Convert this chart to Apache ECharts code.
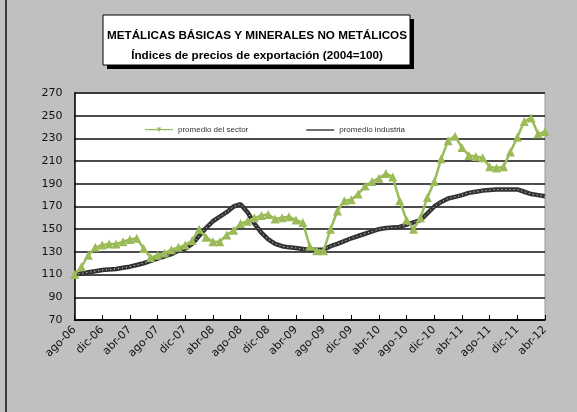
<!DOCTYPE html>
<html><head><meta charset="utf-8">
<script src="https://cdn.jsdelivr.net/npm/echarts@6/dist/echarts.min.js"></script>
<style>html,body{margin:0;padding:0;background:#c0c0c0;}#c{width:577px;height:412px;}</style>
</head><body><div id="c"></div>
<script>
var months = ['ene','feb','mar','abr','may','jun','jul','ago','sep','oct','nov','dic'];
var categories = [];
for (var y = 2006, m = 7; categories.length < 69; ) {
  categories.push(months[m] + '-' + String(y).slice(2));
  m++; if (m > 11) { m = 0; y++; }
}
var titleLines = ['METÁLICAS BÁSICAS Y MINERALES NO METÁLICOS', 'Índices de precios de exportación (2004=100)'];
var seriesNames = ['promedio del sector', 'promedio industria'];
var sector = [110,117,127,134,136,137,137,139,141,142,133,125,127,129,132,134,136,140,150,143,
  139,139,145,149,155,157,160,162,163,159,160,161,158,156,135,131,131,150,166,175,
  176,181,188,192,195,199,196,175,158,150,160,178,192,212,228,232,222,215,214,213,
  205,204,205,218,231,245,248,234,236];
var industria = [110,111,112,113,114,114.5,115,116,117,118.5,120,122,124,126,128,131,133,137,144,151,
  157,161,165,170,172,165,155,147,141,137,135,134,133.5,132.5,132,132,132,135,137,139.5,
  142,144,146,148,150,151,151.5,152,154,156,158,164,170,174,177,178.5,180,182,183,184,
  184.5,185,185,185,185,183,181,180,179];
var yTicks = {min: 70, max: 270, interval: 20};

var chart = echarts.init(document.getElementById('c'));
chart.setOption({
  backgroundColor: '#c0c0c0',
  animation: false,
  graphic: [
    {type: 'line', shape: {x1: 6, y1: 0, x2: 6, y2: 412}, style: {stroke: '#111', lineWidth: 1.5}},
    {type: 'rect', shape: {x: 107, y: 19, width: 307, height: 50}, style: {fill: '#000'}},
    {type: 'rect', shape: {x: 103, y: 15, width: 307, height: 50}, style: {fill: '#fff', stroke: '#000', lineWidth: 1}}
  ],
  title: {
    text: titleLines.join('\n'),
    left: 252, top: 21, textAlign: 'center',
    textStyle: {fontFamily: 'Liberation Sans, sans-serif', fontWeight: 'bold', fontSize: 11.7, lineHeight: 20, color: '#000'}
  },
  legend: {
    data: [
      {name: seriesNames[0], icon: 'path://M0,4 L40,4 L40,6 L0,6 Z M17,2 L23,2 L20,9 Z'},
      {name: seriesNames[1], icon: 'path://M0,4 L40,4 L40,6 L0,6 Z'}
    ],
    left: 140, top: 121, itemWidth: 28, itemHeight: 6, itemGap: 58,
    textStyle: {fontSize: 8, color: '#333', fontFamily: 'Liberation Sans, sans-serif'}
  },
  grid: {left: 74.5, right: 32, top: 93, bottom: 92, show: true, backgroundColor: '#fff', borderColor: '#999', borderWidth: 1},
  xAxis: {
    type: 'category', data: categories, boundaryGap: false,
    axisLine: {lineStyle: {color: '#000', width: 1.5}},
    axisTick: {inside: true, interval: 3, length: 5, lineStyle: {color: '#000'}},
    axisLabel: {interval: 3, rotate: 45, fontSize: 11, color: '#111', margin: 8, fontFamily: 'DejaVu Sans, sans-serif'},
    splitLine: {show: false}
  },
  yAxis: {
    type: 'value', min: yTicks.min, max: yTicks.max, interval: yTicks.interval,
    axisLine: {show: true, lineStyle: {color: '#000', width: 1.5}},
    axisTick: {show: false},
    axisLabel: {fontSize: 11, color: '#111', margin: 12, fontFamily: 'DejaVu Sans, sans-serif'},
    splitLine: {lineStyle: {color: '#111', width: 1.5}}
  },
  series: [
    {name: seriesNames[1], type: 'line', data: industria, symbol: 'none',
      lineStyle: {color: '#333', width: 4.5}, itemStyle: {color: '#333'}, z: 2},
    {name: 'overlay', type: 'line', data: industria, symbol: 'none', silent: true,
      lineStyle: {color: '#e8e8e8', width: 1, type: [1, 3]}, z: 3},
    {name: seriesNames[0], type: 'line', data: sector, symbol: 'triangle', symbolSize: 9, showAllSymbol: true,
      lineStyle: {color: '#9bbb59', width: 2.5}, itemStyle: {color: '#9bbb59'}, z: 4}
  ]
});
</script></body></html>
